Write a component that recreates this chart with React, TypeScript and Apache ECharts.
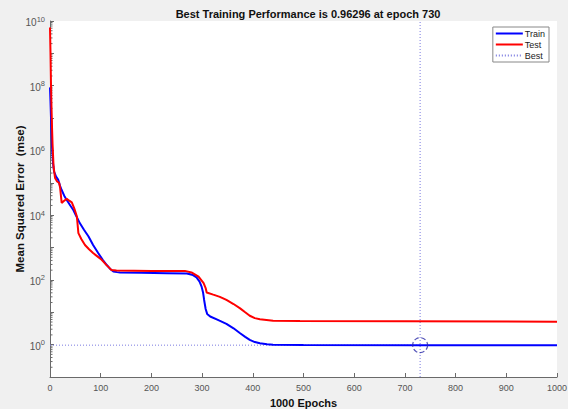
import React, { useEffect, useRef } from "react";
import * as echarts from "echarts";

const titleText = "Best Training Performance is 0.96296 at epoch 730";
const xAxisName = "1000 Epochs";
const yAxisName = "Mean Squared Error  (mse)";
const xTicks = [0, 100, 200, 300, 400, 500, 600, 700, 800, 900, 1000];
const bestEpoch = 730;
const bestPerf = 0.96296;

const trainEpochs = [0, 1, 2, 3, 4, 6, 8, 12, 16, 20, 23, 28, 33, 40, 46, 52, 59, 67, 76, 85, 95, 104, 112, 120, 125, 132, 138, 180, 230, 270, 282, 289, 295, 299, 302, 304, 307, 310, 316, 330, 348, 362, 375, 385, 394, 404, 414, 428, 440, 500, 730, 1000];
const trainValues = [8.9e7, 3.2e7, 1e7, 3.2e6, 1.26e6, 4.0e5, 2.2e5, 1.55e5, 1.26e5, 7.9e4, 6.0e4, 4.0e4, 2.95e4, 2.0e4, 1.45e4, 9.3e3, 5.6e3, 3.55e3, 2.2e3, 1.2e3, 676, 417, 288, 209, 182, 174, 170, 166, 162, 158, 141, 120, 89, 62, 40, 24, 12.6, 8.9, 7.4, 5.9, 4.4, 3.2, 2.24, 1.74, 1.4, 1.2, 1.1, 1.02, 1.0, 0.977, 0.96296, 0.962];

const testEpochs = [0, 1, 2, 3, 4, 5, 7, 10, 14, 18, 20, 23, 28, 33, 38, 43, 48, 53, 56, 62, 69, 77, 85, 94, 102, 112, 121, 131, 200, 266, 279, 293, 303, 307, 309, 322, 335, 348, 362, 375, 385, 394, 404, 414, 440, 493, 700, 1000];
const testValues = [6.3e9, 1e9, 1e8, 2e7, 5e6, 1.6e6, 3.2e5, 1.4e5, 1.1e5, 1e5, 7e4, 2.4e4, 2.8e4, 3.2e4, 2.8e4, 2.5e4, 1.6e4, 9.1e3, 2.8e3, 1.8e3, 1.2e3, 890, 676, 525, 417, 282, 204, 195, 190, 190, 170, 126, 79, 56, 41, 35, 30, 24, 18, 13.2, 10, 7.8, 6.6, 6.1, 5.5, 5.4, 5.25, 5.1];

const yMin = 0.1;
const yMax = 1e10;
const minorMultipliers = [2, 3, 4, 5, 6, 7, 8, 9];
const decadeExponents = [-1, 0, 1, 2, 3, 4, 5, 6, 7, 8, 9];

const FONT = "Liberation Sans, Arial, sans-serif";
const AXIS_COLOR = "#6a6a6a";
const LABEL_COLOR = "#555";

export default function App() {
  const ref = useRef<HTMLDivElement>(null);

  useEffect(() => {
    if (!ref.current) return;
    const chart = echarts.init(ref.current, undefined, { renderer: "svg" });

    const trainData = trainEpochs.map((e, i) => [e, trainValues[i]]);
    const testData = testEpochs.map((e, i) => [e, testValues[i]]);
    const minorTicks: number[][] = [];
    decadeExponents.forEach((ex) => {
      minorMultipliers.forEach((m) => minorTicks.push([0, m * Math.pow(10, ex)]));
    });

    chart.setOption({
      animation: false,
      backgroundColor: "#f0f0f0",
      textStyle: { fontFamily: FONT },
      title: {
        text: titleText,
        left: 303,
        textAlign: "center",
        top: 3,
        textStyle: { fontFamily: FONT, fontSize: 11, fontWeight: "bold", color: "#111" },
      },
      legend: {
        data: ["Train", "Test", "Best"],
        orient: "vertical",
        right: 19,
        top: 27,
        padding: [2, 4, 2, 2],
        itemWidth: 27,
        itemHeight: 10,
        itemGap: 2,
        borderColor: "#888",
        borderWidth: 1,
        backgroundColor: "#fff",
        itemStyle: { opacity: 0 },
        textStyle: { fontFamily: FONT, fontSize: 9, color: "#222", padding: [0, 0, 0, -3] },
        selectedMode: false,
      },
      grid: {
        left: 50,
        right: 11,
        top: 21,
        bottom: 32,
        show: true,
        backgroundColor: "#fff",
        borderWidth: 0,
        containLabel: false,
        outerBoundsMode: "none",
      },
      xAxis: {
        type: "value",
        min: 0,
        max: 1000,
        interval: 100,
        name: xAxisName,
        nameLocation: "middle",
        nameGap: 20,
        nameMoveOverlap: false,
        nameTextStyle: { fontFamily: FONT, fontSize: 11, fontWeight: "bold", color: "#111" },
        axisLine: { show: true, onZero: false, lineStyle: { color: AXIS_COLOR, width: 1 } },
        axisTick: { show: true, inside: true, length: 4, lineStyle: { color: AXIS_COLOR } },
        axisLabel: {
          margin: 6,
          fontSize: 9,
          color: LABEL_COLOR,
          fontFamily: FONT,
          formatter: (v: number) => (xTicks.includes(v) ? String(v) : ""),
        },
        splitLine: { show: false },
      },
      yAxis: {
        type: "log",
        logBase: 10,
        min: yMin,
        max: yMax,
        interval: 1,
        name: yAxisName,
        nameLocation: "middle",
        nameRotate: 90,
        nameGap: 24,
        nameMoveOverlap: false,
        nameTextStyle: { fontFamily: FONT, fontSize: 11.5, fontWeight: "bold", color: "#111" },
        axisLine: { show: true, lineStyle: { color: AXIS_COLOR, width: 1 } },
        axisTick: { show: true, inside: true, length: 4, interval: 0, lineStyle: { color: AXIS_COLOR } },
        axisLabel: {
          margin: 5,
          interval: 0,
          hideOverlap: false,
          color: LABEL_COLOR,
          fontFamily: FONT,
          formatter: (v: number) => {
            const ex = Math.round(Math.log10(v));
            if (ex < 0 || ex % 2 !== 0) return "";
            return `{b|10}{e|${ex}}`;
          },
          rich: {
            b: { fontSize: 10, color: LABEL_COLOR, fontFamily: FONT, padding: [3, 0, 0, 0] },
            e: { fontSize: 7.5, color: LABEL_COLOR, fontFamily: FONT, padding: [0, 0, 4, 0] },
          },
        },
        splitLine: { show: false },
        minorTick: { show: false },
      },
      series: [
        {
          name: "minorTicks",
          type: "custom",
          silent: true,
          clip: false,
          data: minorTicks,
          renderItem: (params: any, api: any) => {
            const pt = api.coord([0, api.value(1)]);
            return {
              type: "line",
              shape: { x1: pt[0], y1: pt[1], x2: pt[0] + 2.5, y2: pt[1] },
              style: { stroke: AXIS_COLOR, lineWidth: 1 },
            };
          },
          z: 1,
        },
        {
          name: "Best",
          type: "line",
          data: [[0, bestPerf], [bestEpoch, bestPerf]],
          symbol: "none",
          lineStyle: { color: "#7a7ae0", width: 1, type: [1, 2] },
          itemStyle: { color: "#7a7ae0" },
          z: 2,
        },
        {
          name: "Best",
          type: "line",
          data: [[bestEpoch, yMin], [bestEpoch, yMax]],
          symbol: "none",
          lineStyle: { color: "#7a7ae0", width: 1, type: [1, 2] },
          itemStyle: { color: "#7a7ae0" },
          z: 2,
        },
        {
          name: "Train",
          type: "line",
          data: trainData,
          symbol: "none",
          lineStyle: { color: "#0000ff", width: 2 },
          itemStyle: { color: "#0000ff" },
          z: 3,
        },
        {
          name: "Test",
          type: "line",
          data: testData,
          symbol: "none",
          lineStyle: { color: "#ff0000", width: 2 },
          itemStyle: { color: "#ff0000" },
          z: 4,
        },
        {
          name: "bestPoint",
          type: "scatter",
          data: [[bestEpoch, bestPerf]],
          symbol: "circle",
          symbolSize: 15,
          itemStyle: { color: "transparent", borderColor: "#2a2aa8", borderWidth: 1.2, borderType: "dashed" },
          z: 5,
        },
      ],
    });

    return () => chart.dispose();
  }, []);

  return (
    <div
      ref={ref}
      style={{ position: "fixed", left: 0, top: 0, width: 568, height: 409 }}
    />
  );
}
